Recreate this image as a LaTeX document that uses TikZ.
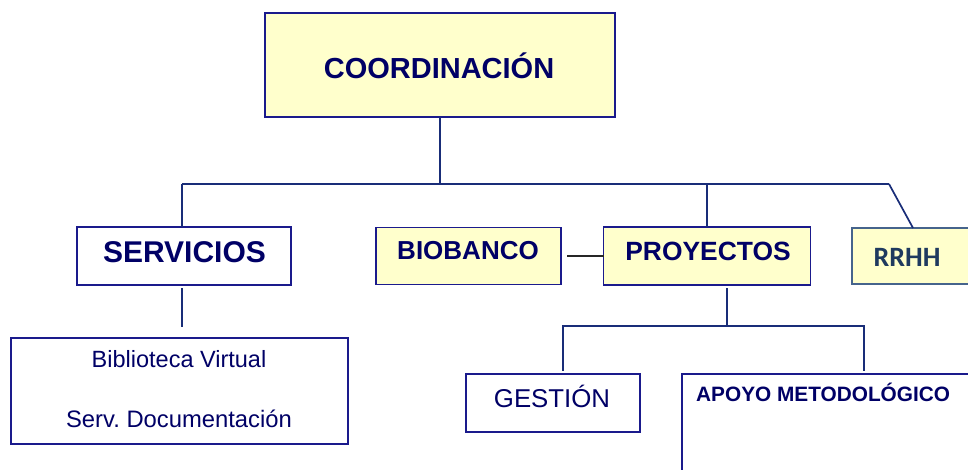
\documentclass[tikz,border=0pt]{standalone}
\usepackage{fontspec}
\setmainfont{Liberation Sans}
\newfontfamily\calfont{Carlito}
\definecolor{navytxt}{RGB}{0,0,102}
\definecolor{boxline}{RGB}{26,26,140}
\definecolor{connline}{RGB}{25,45,120}
\definecolor{paleyel}{RGB}{255,255,204}
\definecolor{steelline}{RGB}{70,100,140}
\definecolor{steeltxt}{RGB}{31,58,95}
\tikzset{
  orgbox/.style={draw=boxline, line width=1.8pt, rectangle, inner sep=0pt, outer sep=0pt},
  yelbox/.style={orgbox, fill=paleyel},
  whbox/.style={orgbox, fill=white},
  btxt/.style={text=navytxt, font=\bfseries, inner sep=0pt, anchor=base},
  rtxt/.style={text=navytxt, inner sep=0pt, anchor=base},
  conn/.style={draw=connline, line width=1.7pt},
}
\begin{document}
\begin{tikzpicture}[x=1pt,y=-1pt]
\useasboundingbox (0,0) rectangle (968,470);
\clip (0,0) rectangle (968,470);
% boxes
\node[yelbox, minimum width=350pt, minimum height=104pt] (coord) at (440,65) {};
\node[whbox, minimum width=214pt, minimum height=58pt] (serv) at (184,256) {};
\node[yelbox, minimum width=185pt, minimum height=57pt] (bio) at (468.5,256) {};
\node[yelbox, minimum width=207pt, minimum height=58pt] (proy) at (707,256) {};
\node[orgbox, draw=steelline, fill=paleyel, minimum width=150pt, minimum height=56pt] (rrhh) at (927,256) {};
\node[whbox, minimum width=337pt, minimum height=106pt] (bib) at (179.5,391) {};
\node[whbox, minimum width=174pt, minimum height=58pt] (gest) at (553,403) {};
\node[whbox, minimum width=320pt, minimum height=130pt] (apoyo) at (842,439) {};
% texts
\node[btxt, font=\bfseries\fontsize{29}{34}\selectfont] (tcoord) at (439,79) {COORDINACIÓN};
\node[btxt, font=\bfseries\fontsize{30}{36}\selectfont] (tserv) at (184.5,262.5) {SERVICIOS};
\node[btxt, font=\bfseries\fontsize{26}{31}\selectfont] (tbio) at (468,259.3) {BIOBANCO};
\node[btxt, font=\bfseries\fontsize{26.4}{31}\selectfont] (tproy) at (708,260) {PROYECTOS};
\node[inner sep=0pt, anchor=base, text=steeltxt, font=\calfont\bfseries\fontsize{28}{33}\selectfont] (trrhh) at (907,266) {RRHH};
\node[rtxt, font=\fontsize{23.5}{28}\selectfont] (tbib1) at (179,367.7) {Biblioteca Virtual};
\node[rtxt, font=\fontsize{23.8}{28}\selectfont] (tbib2) at (179,427.3) {Serv.\ Documentación};
\node[rtxt, font=\fontsize{25.8}{30}\selectfont] (tgest) at (552,407.3) {GESTIÓN};
\node[btxt, anchor=base west, font=\bfseries\fontsize{20.8}{25}\selectfont] (tapoyo) at (696,401) {APOYO METODOLÓGICO};
% connectors
\coordinate (hL) at (182,184);
\coordinate (hR) at (889,184);
\coordinate (pJ) at (727,326);
\draw[conn] (hL) -- (hR);
\draw[conn] (coord.south) -- (coord.south |- hL);
\draw[conn] (hL) -- ([xshift=-2pt]serv.north);
\draw[conn] (proy.north |- hL) -- (proy.north);
\draw[conn] (hR) -- ([xshift=61pt]rrhh.north west);
\draw[conn, shorten <=3pt, shorten >=11pt] ([xshift=-2pt]serv.south) -- ([xshift=2.5pt]bib.north);
\draw[draw=black!85, line width=1.4pt, shorten <=6pt] (bio.east) -- (proy.west);
\draw[conn, shorten <=3pt] ([xshift=20pt]proy.south) -- (pJ);
\draw[conn, shorten >=3pt] (pJ) -| ([xshift=10pt]gest.north);
\draw[conn, shorten >=3pt] (pJ) -| ([xshift=182pt]apoyo.north west);
\end{tikzpicture}
\end{document}
